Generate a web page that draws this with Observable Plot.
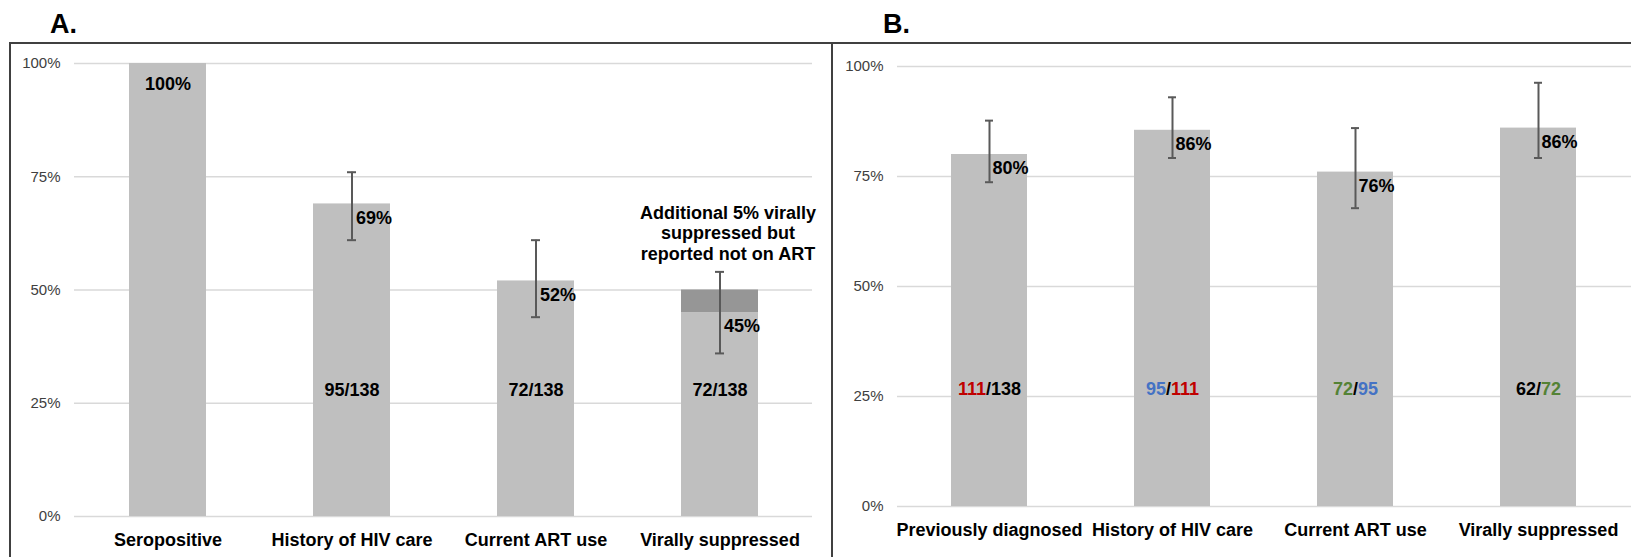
<!DOCTYPE html>
<html><head><meta charset="utf-8">
<script src="https://cdn.jsdelivr.net/npm/d3@7"></script>
<script src="https://cdn.jsdelivr.net/npm/@observablehq/plot@0.6"></script>
<style>
html,body{margin:0;padding:0;background:#fff;}
#wrap{position:relative;width:1631px;height:557px;overflow:hidden;font-family:"Liberation Sans",Arial,sans-serif;background:#fff;}
.panel{position:absolute;top:43px;}
.panel svg{background:transparent;}
.frame{position:absolute;background:#404040;}
.tag{position:absolute;font-weight:bold;font-size:27px;line-height:1;color:#000;}
</style></head><body>
<div id="wrap">
  <div class="tag" style="left:50px;top:11px">A.</div>
  <div class="tag" style="left:883px;top:11px">B.</div>
  <div id="panelA" class="panel" style="left:10px;width:822px;height:514px"></div>
  <div id="panelB" class="panel" style="left:832px;width:799px;height:514px"></div>
  <div class="frame" style="left:9px;top:42px;width:1622px;height:2px"></div>
  <div class="frame" style="left:9px;top:42px;width:2px;height:515px"></div>
  <div class="frame" style="left:831px;top:42px;width:2px;height:515px"></div>
</div>
<script>
// ---- Panel A data ----
const stagesA = ["Seropositive", "History of HIV care", "Current ART use", "Virally suppressed"];
const valuesA = [100, 69, 52, 45];
const extraA = [0, 0, 0, 5];
const lowA = [null, 61, 44, 36];
const highA = [null, 76, 61, 54];
const fractionsA = ["", "95/138", "72/138", "72/138"];
const noteA = "Additional 5% virally\nsuppressed but\nreported not on ART";

// ---- Panel B data ----
const stagesB = ["Previously diagnosed", "History of HIV care", "Current ART use", "Virally suppressed"];
const valuesB = [80, 85.5, 76, 86];
const lowB = [73.7, 79.2, 67.8, 79.2];
const highB = [87.7, 93, 86, 96.3];
const numB = ["111", "95", "72", "62"];
const denB = ["138", "111", "95", "72"];

const yTicks = [0, 25, 50, 75, 100];

// styles
const barFill = "#bfbfbf", extraFill = "#969696", errColor = "#595959", gridColor = "#d9d9d9";
const stageColorB = ["#c00000", "#4472c4", "#548235", "#000000"];
const font = "Liberation Sans, Arial, sans-serif";

const dataA = stagesA.map((s, i) => ({stage: s, value: valuesA[i], extra: extraA[i], low: lowA[i], high: highA[i], frac: fractionsA[i]}));
const dataB = stagesB.map((s, i) => ({stage: s, value: valuesB[i], low: lowB[i], high: highB[i], frac: numB[i] + "/" + denB[i], idx: i}));

function commonMarks(data, stages) {
  return [
    Plot.ruleY(yTicks, {stroke: gridColor, strokeWidth: 1.5}),
    Plot.axisY({ticks: yTicks, tickFormat: d => d + "%", tickSize: 0, tickPadding: 14, fontSize: 15, color: "#404040", label: null, fontFamily: font}),
    Plot.axisX({tickSize: 0, tickPadding: 17, fontSize: 18, fontWeight: "bold", color: "#000", label: null, fontFamily: font}),
    Plot.barY(data, {x: "stage", y1: 0, y2: "value", fill: barFill})
  ];
}

function errMarks(data) {
  const d = data.filter(r => r.low != null);
  return [
    Plot.ruleX(d, {x: "stage", y1: "low", y2: "high", stroke: errColor, strokeWidth: 2}),
    Plot.tickY(d, {x: "stage", y: "low", stroke: errColor, strokeWidth: 2, insetLeft: 34, insetRight: 34}),
    Plot.tickY(d, {x: "stage", y: "high", stroke: errColor, strokeWidth: 2, insetLeft: 34, insetRight: 34})
  ];
}

const xScale = stages => ({domain: stages, paddingInner: 0.583, paddingOuter: 0.2915});

const plotA = Plot.plot({
  width: 822, height: 514,
  marginLeft: 64, marginRight: 20, marginTop: 20, marginBottom: 41,
  style: {fontFamily: font, background: "transparent", overflow: "visible"},
  x: xScale(stagesA),
  y: {domain: [0, 100]},
  marks: [
    ...commonMarks(dataA, stagesA),
    Plot.barY(dataA.filter(d => d.extra > 0), {x: "stage", y1: "value", y2: d => d.value + d.extra, fill: extraFill}),
    ...errMarks(dataA),
    Plot.text(dataA.filter(d => d.low == null), {x: "stage", y: "value", text: d => d.value + "%", dy: 21, fontSize: 18, fontWeight: "bold", fill: "#000"}),
    Plot.text(dataA.filter(d => d.low != null), {x: "stage", y: "value", text: d => d.value + "%", textAnchor: "start", dx: 4, dy: 14, fontSize: 18, fontWeight: "bold", fill: "#000"}),
    Plot.text(dataA.filter(d => d.frac), {x: "stage", y: 25, text: "frac", dy: -13, fontSize: 18, fontWeight: "bold", fill: "#000"}),
    Plot.text([noteA], {x: () => stagesA[3], y: () => highA[3], text: d => d, dx: 8, dy: -39, lineHeight: 1.14, fontSize: 18, fontWeight: "bold", fill: "#000"})
  ]
});
document.getElementById("panelA").appendChild(plotA);

const plotB = Plot.plot({
  width: 799, height: 514,
  marginLeft: 65, marginRight: 0, marginTop: 23, marginBottom: 51,
  style: {fontFamily: font, background: "transparent", overflow: "visible"},
  x: xScale(stagesB),
  y: {domain: [0, 100]},
  marks: [
    ...commonMarks(dataB, stagesB),
    ...errMarks(dataB),
    Plot.text(dataB, {x: "stage", y: "value", text: d => Math.round(d.value) + "%", textAnchor: "start", dx: 3, dy: 14, fontSize: 18, fontWeight: "bold", fill: "#000"}),
    Plot.text(dataB, {x: "stage", y: 25, text: "frac", dy: -7, fontSize: 18, fontWeight: "bold", fill: "#000"})
  ]
});
document.getElementById("panelB").appendChild(plotB);

// colour the numerator / denominator of each fraction in panel B
const svgNS = "http://www.w3.org/2000/svg";
const byFrac = new Map(dataB.map(d => [d.frac, d.idx]));
plotB.querySelectorAll("text").forEach(t => {
  const i = byFrac.get(t.textContent.trim());
  if (i == null) return;
  const parts = [
    [numB[i], stageColorB[i]],
    ["/", "#000000"],
    [denB[i], i === 0 ? "#000000" : stageColorB[i - 1]]
  ];
  while (t.firstChild) t.removeChild(t.firstChild);
  for (const [s, c] of parts) {
    const ts = document.createElementNS(svgNS, "tspan");
    ts.setAttribute("fill", c);
    ts.style.fill = c;
    ts.textContent = s;
    t.appendChild(ts);
  }
});
</script>
</body></html>
